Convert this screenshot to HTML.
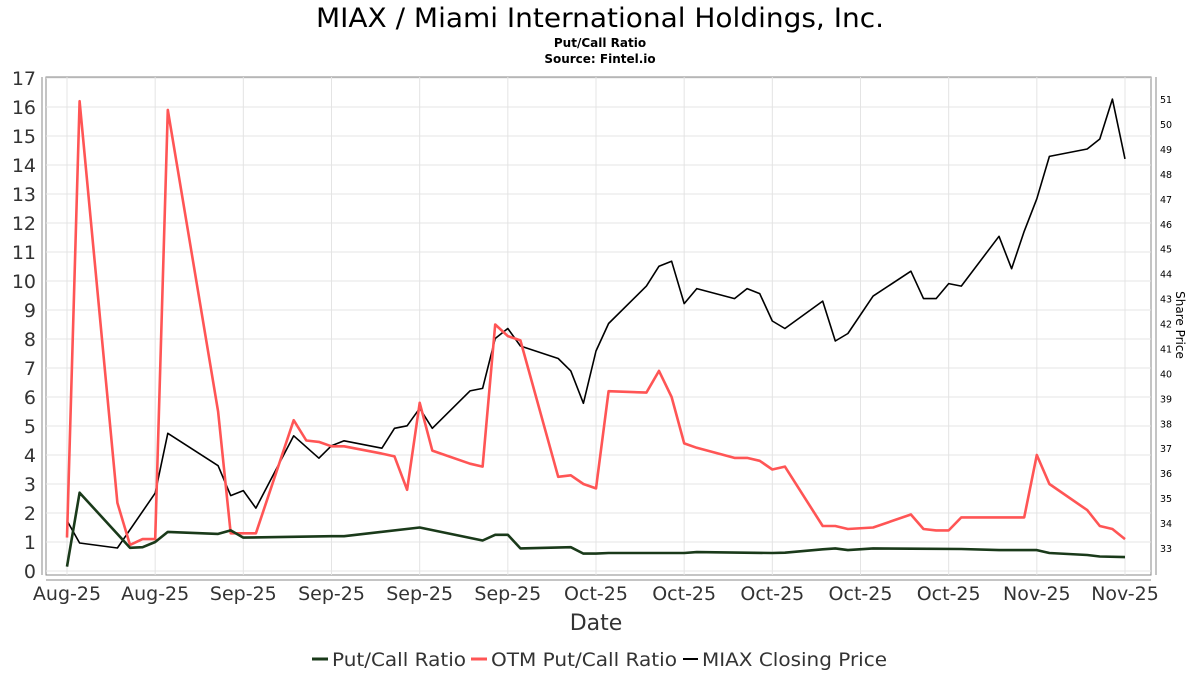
<!DOCTYPE html>
<html><head><meta charset="utf-8"><style>
body{margin:0;background:#fff;}
svg{display:block;font-family:"DejaVu Sans","Liberation Sans",sans-serif;}
</style></head><body>
<svg id="chart" width="1200" height="675" viewBox="0 0 1200 675">
<text x="316" y="27" textLength="568" lengthAdjust="spacingAndGlyphs" font-size="27" fill="#000">MIAX / Miami International Holdings, Inc.</text>
<text x="600" y="47" text-anchor="middle" font-size="12" font-weight="bold" fill="#000">Put/Call Ratio</text>
<text x="600" y="63" text-anchor="middle" font-size="12" font-weight="bold" fill="#000">Source: Fintel.io</text>
<rect x="46" y="77" width="1105" height="498" fill="#fff" stroke="#888"/>
<g id="grid"></g><g id="axes"></g><g id="series"></g>
<text x="596" y="630" text-anchor="middle" font-size="22" fill="#333">Date</text>
<text transform="translate(1176,325) rotate(90)" text-anchor="middle" font-size="12" fill="#000">Share Price</text>
<g font-size="19" fill="#333">
<line x1="312" y1="659" x2="328" y2="659" stroke="#1a3a1a" stroke-width="3"/>
<text x="332" y="666" textLength="134" lengthAdjust="spacingAndGlyphs">Put/Call Ratio</text>
<line x1="471" y1="659" x2="487" y2="659" stroke="#ff5555" stroke-width="3"/>
<text x="491" y="666" textLength="186" lengthAdjust="spacingAndGlyphs">OTM Put/Call Ratio</text>
<line x1="683" y1="659" x2="698" y2="659" stroke="#000" stroke-width="2"/>
<text x="702" y="666" textLength="185" lengthAdjust="spacingAndGlyphs">MIAX Closing Price</text>
</g>
</svg>
<script>
const xTickLabels=["Aug-25","Aug-25","Sep-25","Sep-25","Sep-25","Sep-25","Oct-25","Oct-25","Oct-25","Oct-25","Oct-25","Nov-25","Nov-25"];
const xTickDays=[0,7,14,21,28,35,42,49,56,63,70,77,84];
const leftTicks=[0,1,2,3,4,5,6,7,8,9,10,11,12,13,14,15,16,17];
const rightTicks=[33,34,35,36,37,38,39,40,41,42,43,44,45,46,47,48,49,50,51];
const priceDays=[0,1,4,7,8,12,13,14,15,18,20,21,22,25,26,27,28,29,32,33,34,35,36,39,40,41,42,43,46,47,48,49,50,53,54,55,56,57,60,61,62,64,67,68,69,70,71,74,75,76,77,78,81,82,83,84];
const priceVals=[34.1,33.2,33.0,35.2,37.6,36.3,35.1,35.3,34.6,37.5,36.6,37.1,37.3,37.0,37.8,37.9,38.6,37.8,39.3,39.4,41.4,41.8,41.1,40.6,40.1,38.8,40.9,42.0,43.5,44.3,44.5,42.8,43.4,43.0,43.4,43.2,42.1,41.8,42.9,41.3,41.6,43.1,44.1,43.0,43.0,43.6,43.5,45.5,44.2,45.7,47.0,48.7,49.0,49.4,51.0,48.6];
const otmDays=[0,1,4,5,6,7,8,12,13,14,15,18,19,20,21,22,25,26,27,28,29,32,33,34,35,36,39,40,41,42,43,46,47,48,49,50,53,54,55,56,57,60,61,62,64,67,68,69,70,71,74,75,76,77,78,81,82,83,84];
const otmVals=[1.15,16.2,2.35,0.9,1.1,1.1,15.9,5.5,1.3,1.3,1.3,5.2,4.5,4.45,4.3,4.3,4.05,3.95,2.8,5.8,4.15,3.7,3.6,8.5,8.1,7.95,3.25,3.3,3.0,2.85,6.2,6.15,6.9,6.0,4.4,4.25,3.9,3.9,3.8,3.5,3.6,1.55,1.55,1.45,1.5,1.95,1.45,1.4,1.4,1.85,1.85,1.85,1.85,4.0,3.0,2.1,1.55,1.45,1.1];
const pcrDays=[0,1,5,6,7,8,12,13,14,21,22,28,33,34,35,36,40,41,42,43,46,49,50,56,57,60,61,62,64,67,71,74,77,78,81,82,84];
const pcrVals=[0.15,2.7,0.8,0.82,1.0,1.35,1.28,1.4,1.15,1.2,1.2,1.5,1.05,1.25,1.25,0.78,0.82,0.6,0.6,0.62,0.62,0.62,0.65,0.62,0.63,0.75,0.78,0.72,0.78,0.77,0.76,0.72,0.72,0.62,0.55,0.5,0.48];
const NS="http://www.w3.org/2000/svg";
const xS=d=>67+d*(1125-67)/84;
const yL=v=>571-v*29;
const yR=p=>548-(p-33)*24.94;
function mk(tag,attrs,parent){const e=document.createElementNS(NS,tag);for(const k in attrs)e.setAttribute(k,attrs[k]);parent.appendChild(e);return e;}
const grid=document.getElementById('grid'),axes=document.getElementById('axes'),series=document.getElementById('series');
leftTicks.forEach(v=>{
  const g=mk('line',{x1:46,x2:1151,y1:yL(v),y2:yL(v),stroke:'#e4e4e4'},grid);
  
  
  const t=mk('text',{x:36,y:yL(v)+7,'text-anchor':'end','font-size':19,fill:'#333'},axes);
  t.textContent=v;
  
  
});
mk('line',{x1:42,x2:42,y1:77,y2:575,stroke:'#888'},axes);
mk('line',{x1:1156,x2:1156,y1:77,y2:575,stroke:'#888'},axes);
mk('line',{x1:46,x2:1151,y1:580,y2:580,stroke:'#888'},axes);
rightTicks.forEach(p=>{
  const t=mk('text',{x:1160,y:yR(p)+4,'font-size':9.5,fill:'#000'},axes);
  t.textContent=p;
  
  
});
xTickDays.forEach((d,i)=>{
  const g=mk('line',{x1:xS(d),x2:xS(d),y1:77,y2:575,stroke:'#e4e4e4'},grid);
  
  
  const t=mk('text',{x:xS(d),y:600,'text-anchor':'middle','font-size':19,fill:'#333'},axes);
  t.textContent=xTickLabels[i];
  
  
});
function line(days,vals,yf,color,w,name){
  const pts=days.map((d,i)=>xS(d).toFixed(1)+','+yf(vals[i]).toFixed(1)).join(' ');
  const p=mk('polyline',{points:pts,fill:'none',stroke:color,'stroke-width':w,'stroke-linejoin':'round'},series);
  
  
}
line(priceDays,priceVals,yR,'#000',1.6,'price-line');
line(otmDays,otmVals,yL,'#ff5555',2.6,'otm-put-call-line');
line(pcrDays,pcrVals,yL,'#1a3a1a',2.6,'put-call-line');
</script>
</body></html>
